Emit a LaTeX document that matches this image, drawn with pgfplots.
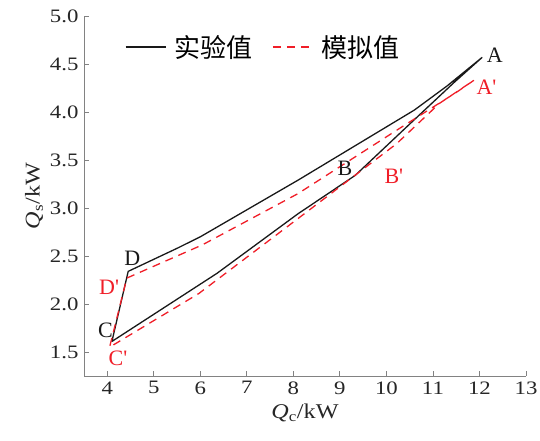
\documentclass[border=0pt]{standalone}
\usepackage{fontspec}
\setmainfont{Liberation Serif}
\newfontfamily\cjk{Noto Sans CJK SC}
\usepackage{pgfplots}
\pgfplotsset{compat=1.18}
\definecolor{simred}{RGB}{240,30,40}
\definecolor{axgray}{RGB}{130,130,130}
\newcommand\w[1]{\scalebox{1.2}[1]{#1}}

\begin{document}
\begin{tikzpicture}
\begin{axis}[
  name=ax, at={(0,0)}, anchor=south west,
  scale only axis, width=442pt, height=360pt,
  xmin=3.5, xmax=13, ymin=1.25, ymax=5,
  axis x line=bottom, axis y line=left,
  axis line style={-, axgray, line width=1pt},
  xtick={4,...,13},
  xticklabels={\w{4},\w{5},\w{6},\w{7},\w{8},\w{9},\w{10},\w{11},\w{12},\w{13}},
  ytick={1.5,2,...,5},
  yticklabels={\w{1.5},\w{2.0},\w{2.5},\w{3.0},\w{3.5},\w{4.0},\w{4.5},\w{5.0}},
  tick style={axgray, line width=0.8pt}, tick align=inside, major tick length=5pt,
  tick label style={font=\fontsize{19}{21}\selectfont, text=black!85},
  yticklabel style={xshift=-2pt},
  xticklabel style={yshift=-2pt},
  xlabel={\scalebox{1.15}[1]{\textit{Q}\textsubscript{c}/kW}},
  ylabel={\scalebox{1.15}[1]{\textit{Q}\textsubscript{s}/kW}},
  xlabel style={yshift=-3pt},
  label style={font=\fontsize{21}{23}\selectfont, text=black!85},
  legend style={draw=none, fill=none, at={(0.092,0.914)}, anchor=west,
    legend columns=2, inner sep=0pt,
    font=\cjk\fontsize{26}{28}\selectfont,
    /tikz/every odd column/.append style={column sep=6pt},
    /tikz/every even column/.append style={column sep=18pt}},
  legend image code/.code={\draw[#1] (0pt,0pt) -- (40pt,0pt);},
  clip=false,
]
% experimental loop A-B-C-D
\addplot[black!90, line width=1.3pt, line join=round] coordinates {
  (12.06,4.57) (11.3,4.27) (10.6,4.02) (8.1,3.29) (6.0,2.70) (5.5,2.58)
  (4.45,2.34) (4.10,1.61) (6.36,2.32) (8.1,2.94) (9.33,3.34)
  (10.6,3.92) (11.46,4.31) (12.06,4.57)
};
\addlegendentry{实验值}
% simulated loop A'-B'-C'-D'
\addplot[simred, line width=1.3pt, dash pattern=on 8pt off 6pt] coordinates {
  (11.88,4.33) (11.64,4.25) (11.52,4.21) (10.22,3.81) (8.1,3.15)
  (6.04,2.615) (4.42,2.27) (4.05,1.55) (5.97,2.11) (8.1,2.89)
  (10.22,3.67) (11.14,4.09) (11.88,4.33)
};
\addlegendentry{模拟值}

\begin{scope}[every node/.style={font=\fontsize{22}{24}\selectfont}]
\node[text=black!90] at (axis cs:12.33,4.59) {A};
\node[text=black!90] at (axis cs:9.11,3.41) {B};
\node[text=black!90] at (axis cs:3.96,1.73) {C};
\node[text=black!90] at (axis cs:4.54,2.48) {D};
\node[text=simred] at (axis cs:12.15,4.26) {A\textquotesingle};
\node[text=simred] at (axis cs:10.16,3.33) {B\textquotesingle};
\node[text=simred] at (axis cs:4.23,1.43) {C\textquotesingle};
\node[text=simred] at (axis cs:4.04,2.17) {D\textquotesingle};
\end{scope}
\end{axis}
\pgfresetboundingbox
\path[use as bounding box] (-84pt,-64pt) rectangle (456pt,376pt);
\end{tikzpicture}
\end{document}
